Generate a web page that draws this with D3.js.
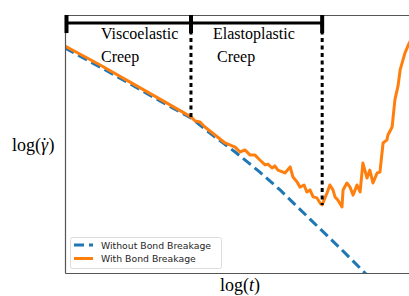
<!DOCTYPE html>
<html>
<head>
<meta charset="utf-8">
<script src="https://cdn.jsdelivr.net/npm/d3@7"></script>
<style>
  body { margin: 0; background: #fff; }
  svg { display: block; }
</style>
</head>
<body>
<svg id="chart" width="409" height="296"></svg>
<script>
// log(t) and log(strain rate), arbitrary units
var tNoBreak    = [0, 1.01, 1.87, 2.73, 3.62, 4.31, 4.89, 5.60, 6.18, 7.04, 7.90, 8.62, 8.9];
var rateNoBreak = [8.72, 7.98, 7.33, 6.67, 6.01, 5.27, 4.69, 3.91, 3.22, 2.09, 0.97, 0, -0.35];

var tBreak    = [0, 1.01, 1.87, 2.73, 3.62, 3.74, 3.88, 4.02, 4.31, 4.60, 4.89, 5.03, 5.17, 5.32, 5.46,
                 5.60, 5.75, 5.83, 5.95, 6.03, 6.12, 6.32, 6.47, 6.55, 6.67, 6.75, 6.87, 6.95, 7.04,
                 7.13, 7.24, 7.33, 7.39, 7.47, 7.53, 7.61, 7.70, 7.76, 7.84, 7.96, 7.99, 8.10, 8.19,
                 8.28, 8.39, 8.48, 8.56, 8.68, 8.76, 8.85, 8.97, 9.05, 9.14, 9.25, 9.28, 9.40, 9.48,
                 9.57, 9.63, 9.77, 9.89, 10.0];
var rateBreak = [8.80, 8.06, 7.40, 6.74, 6.05, 5.89, 5.85, 5.66, 5.35, 5.04, 4.88, 4.69, 4.77, 4.57, 4.57,
                 4.38, 4.19, 4.22, 4.07, 4.15, 3.99, 3.88, 4.11, 3.72, 3.53, 3.33, 3.41, 3.14, 3.22,
                 2.95, 2.91, 2.71, 2.64, 2.91, 3.10, 3.41, 3.22, 2.95, 2.83, 2.56, 3.22, 3.49, 3.33,
                 3.02, 3.41, 3.14, 4.26, 3.68, 3.99, 3.49, 3.88, 3.91, 5.04, 5.16, 5.35, 5.66, 6.71,
                 7.25, 7.87, 8.53, 8.91, 9.2];

var phaseBounds = [0, 3.62, 7.39];
var phaseNames  = [["Viscoelastic", "Creep"], ["Elastoplastic", "Creep"]];
var seriesNames = ["Without Bond Breakage", "With Bond Breakage"];
var colors = ["#1f77b4", "#ff7f0e"];

var svg = d3.select("#chart");

var x = d3.scaleLinear().domain([0, 10]).range([65, 413]),
    y = d3.scaleLinear().domain([0, 10]).range([273, 15]);

svg.append("clipPath").attr("id", "plotclip")
  .append("rect")
    .attr("x", x(0)).attr("y", y(10))
    .attr("width", x(10) - x(0)).attr("height", y(0) - y(10));

var line = d3.line()
    .x(function(d){ return x(d[0]) })
    .y(function(d){ return y(d[1]) });

var noBreak = tNoBreak.map(function(t, i){ return [t, rateNoBreak[i]] }),
    withBreak = tBreak.map(function(t, i){ return [t, rateBreak[i]] });

svg.append("path")
    .datum(noBreak)
    .attr("clip-path", "url(#plotclip)")
    .attr("d", line)
    .attr("fill", "none")
    .attr("stroke", colors[0])
    .attr("stroke-width", 3)
    .attr("stroke-dasharray", "10,5");

svg.append("path")
    .datum(withBreak)
    .attr("clip-path", "url(#plotclip)")
    .attr("d", line)
    .attr("fill", "none")
    .attr("stroke", colors[1])
    .attr("stroke-width", 3)
    .attr("stroke-linejoin", "round");

// spines, no ticks
svg.append("g").attr("transform", "translate(0," + y(0) + ")")
    .call(d3.axisBottom(x).tickValues([]).tickSizeOuter(0));
svg.append("g").attr("transform", "translate(0," + y(10) + ")")
    .call(d3.axisTop(x).tickValues([]).tickSizeOuter(0));
svg.append("g").attr("transform", "translate(" + x(0) + ",0)")
    .call(d3.axisLeft(y).tickValues([]).tickSizeOuter(0));
svg.selectAll(".domain").attr("stroke", "#555").attr("stroke-width", 1.2);

// phase bracket
var bracketY = y(9.69);
svg.append("line")
    .attr("x1", x(phaseBounds[0])).attr("x2", x(phaseBounds[2]))
    .attr("y1", bracketY).attr("y2", bracketY)
    .attr("stroke", "#000").attr("stroke-width", 3);

svg.selectAll(".phaseTick")
    .data(phaseBounds).enter()
    .append("line")
    .attr("class", "phaseTick")
    .attr("x1", function(d){ return x(d) + (d == 0 ? 1.5 : 0) })
    .attr("x2", function(d){ return x(d) + (d == 0 ? 1.5 : 0) })
    .attr("y1", y(10))
    .attr("y2", y(9.3))
    .attr("stroke", "#000").attr("stroke-width", 4);

// dotted dividers down to the curve
var dividerEnds = [rateNoBreak[4], rateBreak[32]];
svg.selectAll(".divider")
    .data(phaseBounds.slice(1)).enter()
    .append("line")
    .attr("class", "divider")
    .attr("x1", function(d){ return x(d) })
    .attr("x2", function(d){ return x(d) })
    .attr("y1", bracketY)
    .attr("y2", function(d, i){ return y(dividerEnds[i]) })
    .attr("stroke", "#000").attr("stroke-width", 3)
    .attr("stroke-dasharray", "4,3.5");

var labelX = [x(phaseBounds[0]) + 36, x(phaseBounds[1]) + 22],
    labelX2 = [x(phaseBounds[0]) + 36, x(phaseBounds[1]) + 26];
phaseNames.forEach(function(names, i){
  svg.append("text")
      .attr("x", labelX[i]).attr("y", 39)
      .attr("font-family", "Liberation Serif, Times New Roman, serif")
      .attr("font-size", 16)
      .text(names[0]);
  svg.append("text")
      .attr("x", labelX2[i]).attr("y", 62)
      .attr("font-family", "Liberation Serif, Times New Roman, serif")
      .attr("font-size", 16)
      .text(names[1]);
});

// axis labels
var ylab = svg.append("text")
    .attr("x", 12).attr("y", 151)
    .attr("font-family", "Liberation Serif, Times New Roman, serif")
    .attr("font-size", 18);
ylab.append("tspan").text("log(");
ylab.append("tspan").attr("font-style", "italic").text("\u03b3");
ylab.append("tspan").attr("dx", -6.5).text("\u02d9");
ylab.append("tspan").attr("dx", 1).text(")");

var xlab = svg.append("text")
    .attr("x", 220).attr("y", 291)
    .attr("font-family", "Liberation Serif, Times New Roman, serif")
    .attr("font-size", 18);
xlab.append("tspan").text("log(");
xlab.append("tspan").attr("font-style", "italic").text("t");
xlab.append("tspan").text(")");

// legend
var legend = svg.append("g").attr("transform", "translate(70,237)");
legend.append("rect")
    .attr("x", 0.5).attr("y", 0.5)
    .attr("width", 151).attr("height", 31)
    .attr("rx", 2)
    .attr("fill", "#fff").attr("fill-opacity", 0.8)
    .attr("stroke", "#ddd");

var entries = legend.selectAll(".entry")
    .data(seriesNames).enter()
    .append("g")
    .attr("class", "entry")
    .attr("transform", function(d, i){ return "translate(0," + (8 + i * 13.5) + ")" });

entries.append("line")
    .attr("x1", 4).attr("x2", 23)
    .attr("y1", 0).attr("y2", 0)
    .attr("stroke", function(d, i){ return colors[i] })
    .attr("stroke-width", 3)
    .attr("stroke-dasharray", function(d, i){ return i == 0 ? "10,5" : null });

entries.append("text")
    .attr("x", 31).attr("y", 3.5)
    .attr("font-family", "DejaVu Sans, sans-serif")
    .attr("font-size", 9.3)
    .attr("fill", "#262626")
    .text(function(d){ return d });
</script>
</body>
</html>
